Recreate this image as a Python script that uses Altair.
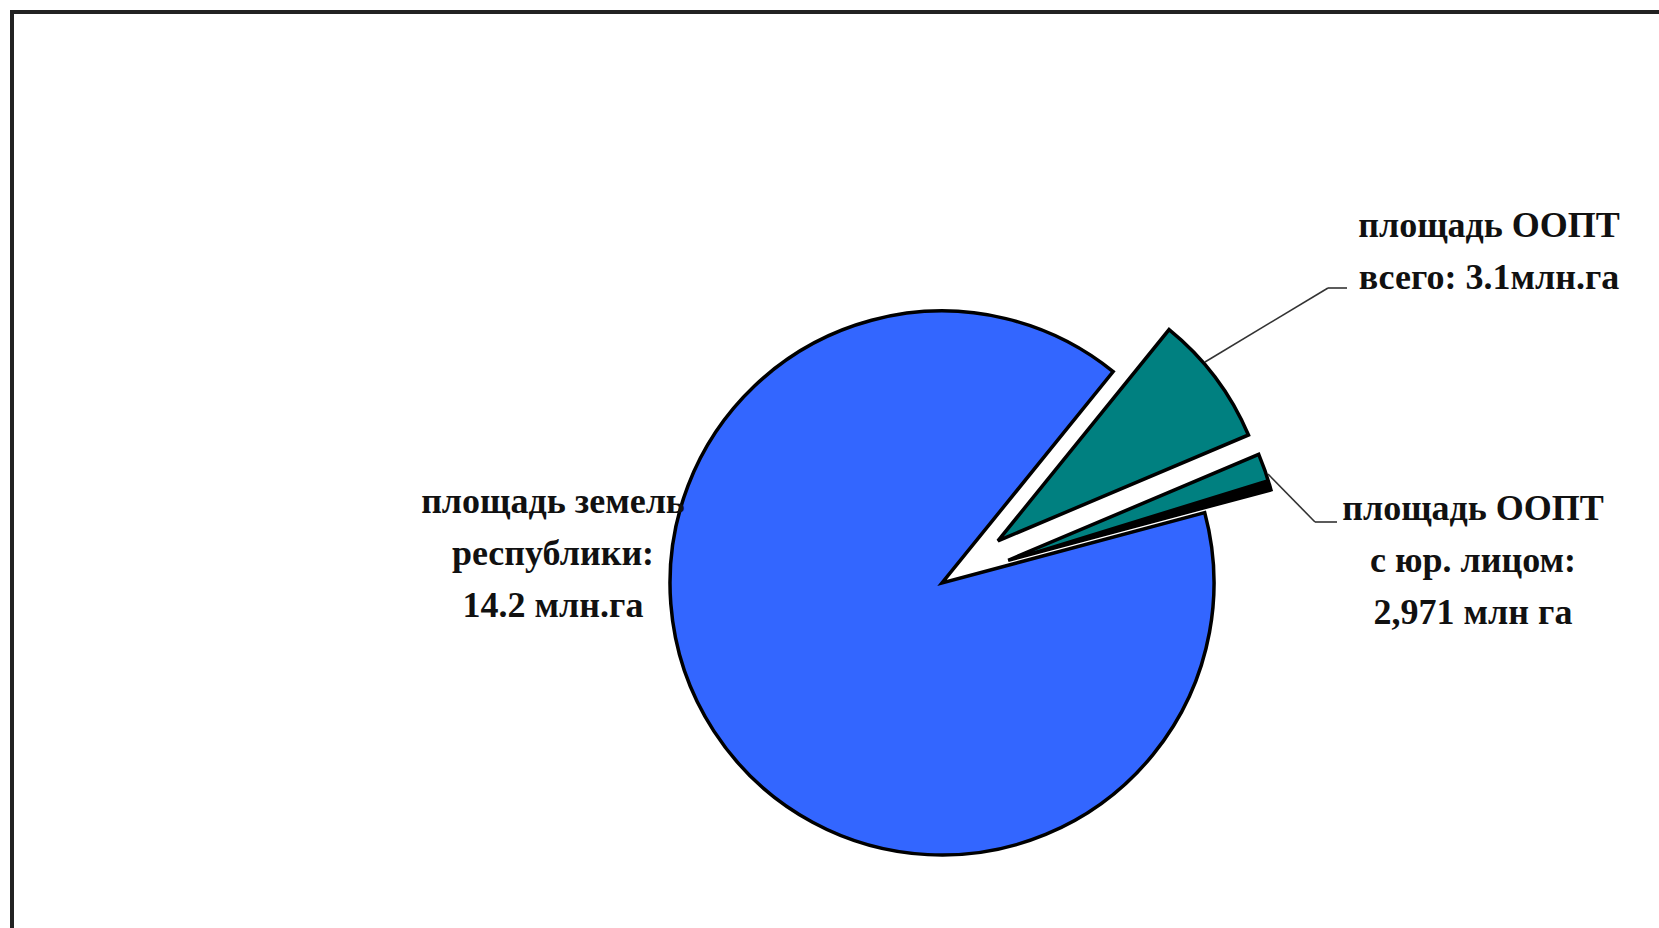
import math
import altair as alt
import pandas as pd

# ---- data ----
categories = ["площадь ООПТ всего", "площадь ООПТ с юр. лицом", "площадь земель республики"]
shares = [7.8, 2.2, 90.0]          # share of the circle (%) as drawn
colors = ["#008080", "#008080", "#3366FF"]

label_total = ["площадь  ООПТ", "всего: 3.1млн.га"]
label_legal = ["площадь  ООПТ", "с юр.  лицом:", "2,971 млн га"]
label_land = ["площадь  земель", "республики:", "14.2 млн.га"]

df = pd.DataFrame({"cat": categories, "share": shares, "color": colors})
df["t1"] = df["share"].cumsum()
df["t0"] = df["t1"] - df["share"]
# darker lower edge of the hatched slice
df["e0"] = df["t1"] - 0.6

start = math.radians(39)
theta_scale = alt.Scale(domain=[0, 100], range=[start, start + 2 * math.pi])

W, H = 1659, 928
CX, CY, R = 942, 583, 272
EXPLODE = 70


def slice_layer(cat, cx, cy, sw, t0="t0", t1="t1", col=None):
    enc = dict(
        theta=alt.Theta(f"{t0}:Q", scale=theta_scale),
        theta2=f"{t1}:Q",
        x=alt.value(cx),
        y=alt.value(cy),
    )
    if col is None:
        enc["color"] = alt.Color("color:N", scale=None)
    else:
        enc["color"] = alt.value(col)
    return (
        alt.Chart(df)
        .transform_filter(alt.datum.cat == cat)
        .mark_arc(radius=R, stroke="black", strokeWidth=sw, strokeJoin="miter")
        .encode(**enc)
    )


def center(idx):
    mid = start + (df["t0"][idx] + df["t1"][idx]) / 200 * 2 * math.pi
    return CX + EXPLODE * math.sin(mid), CY - EXPLODE * math.cos(mid)


blue = slice_layer(categories[2], CX, CY, 3.5)
tx, ty = center(0)
teal = slice_layer(categories[0], tx, ty, 3.5)
hx, hy = center(1)
hatch = slice_layer(categories[1], hx, hy, 3.5)
hatch_edge = slice_layer(categories[1], hx, hy, 2, t0="e0", t1="t1", col="black")

base = alt.Chart(pd.DataFrame({"a": [0]}))


def txt(lines, x, y):
    return base.mark_text(
        font="Liberation Serif", fontWeight="bold", fontSize=36,
        align="center", baseline="alphabetic", lineHeight=52, color="#111",
    ).encode(x=alt.value(x), y=alt.value(y), text=alt.value(lines))


def rule(x1, y1, x2, y2, w=1.6, c="#333"):
    return base.mark_rule(color=c, strokeWidth=w).encode(
        x=alt.value(x1), y=alt.value(y1), x2=alt.value(x2), y2=alt.value(y2)
    )


layers = [
    rule(10, 12, W, 12, 4, "#222"),
    rule(12, 10, 12, H, 4, "#222"),
    blue, teal, hatch, hatch_edge,
    rule(1205, 362, 1328, 288), rule(1328, 288, 1347, 288),
    rule(1268, 474, 1315, 522), rule(1315, 522, 1337, 522),
    txt(label_total, 1489, 237),
    txt(label_legal, 1473, 520),
    txt(label_land, 553, 513),
]

chart = (
    alt.layer(*layers)
    .properties(width=W, height=H, autosize="none", padding=0, background="white")
    .configure_view(stroke=None)
)

chart.save("out.html", embed_options={"renderer": "svg", "actions": False})
